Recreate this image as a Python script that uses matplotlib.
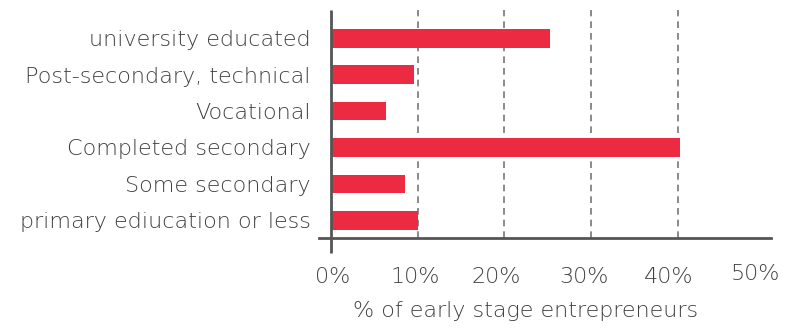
import matplotlib
matplotlib.use("Agg")
import matplotlib.pyplot as plt
from matplotlib.transforms import ScaledTranslation

categories = ["university educated", "Post-secondary, technical", "Vocational",
              "Completed secondary", "Some secondary", "primary ediucation or less"]
values = [25.2, 9.6, 6.4, 40.2, 8.6, 10.1]
xticks = [0, 10, 20, 30, 40, 50]
xtick_labels = ["0%", "10%", "20%", "30%", "40%", "50%"]
xlabel = "% of early stage entrepreneurs"

BAR = "#EC2B42"
TXT = "#404040"
SPINE = "#555555"

plt.rcParams['font.family'] = ['DejaVu Sans']
FS = 16
FW = "light"

fig = plt.figure(figsize=(7.85, 3.31), dpi=100)
W, H = 785, 331
ax = fig.add_axes([319 / W, (H - 237.7) / H, (770.7 - 319) / W, (237.7 - 10) / H])

ypos = list(range(len(categories)))
ax.barh(ypos, values, height=0.51, color=BAR, zorder=3)

ax.set_xlim(-1.35, 50.65)
ax.set_ylim(5.48, -0.78)

for g in [10, 20, 30, 40]:
    ax.axvline(g, color="#777777", lw=1.2, ls=(0, (4, 3)), zorder=1)

for s in ["top", "right", "left"]:
    ax.spines[s].set_visible(False)
ax.spines["bottom"].set_color(SPINE)
ax.spines["bottom"].set_linewidth(2)
ax.plot([0, 0], [-0.78, 5.9], color=SPINE, lw=2, clip_on=False, zorder=4,
        solid_capstyle="butt")

ax.set_yticks(ypos)
ax.set_yticklabels(categories, fontsize=FS, color=TXT, fontweight=FW)
ax.tick_params(axis="y", length=0, pad=6)
ax.set_xticks(xticks)
ax.set_xticklabels(xtick_labels, fontsize=FS, color=TXT, fontweight=FW)
ax.tick_params(axis="x", length=0, pad=21)

# slight hand-placed offsets as in the reference
shifts = [(2, 0), (-2, 0), (-8, 0), (-7, 0), (-10, 0), (-10, 3)]
for lab, (dx, dy) in zip(ax.get_xticklabels(), shifts):
    lab.set_transform(lab.get_transform() + ScaledTranslation(dx / 100, dy / 100, fig.dpi_scale_trans))

fig.text(526 / W, 1 - 311 / H, xlabel, ha="center", va="center",
         fontsize=FS, color=TXT, fontweight=FW)

fig.savefig("out.png", dpi=100, facecolor="white")
